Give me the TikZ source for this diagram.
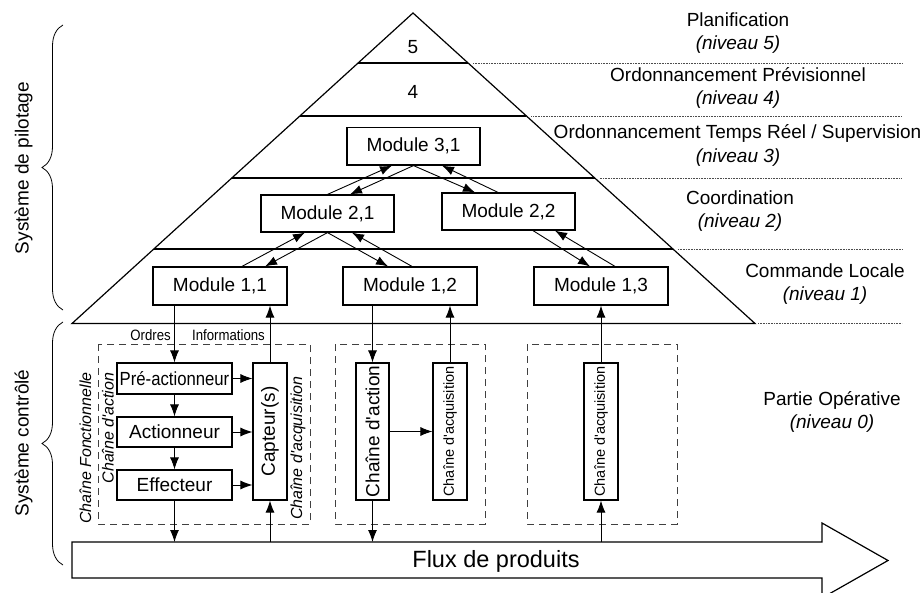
\documentclass[tikz,border=0pt]{standalone}
\usepackage{fontspec}
\setmainfont{Liberation Sans}
\newfontfamily\narrowfont{Liberation Sans}[FakeStretch=0.88]
\usetikzlibrary{arrows.meta,calc,decorations.pathreplacing}
\begin{document}
\begin{tikzpicture}[x=1pt,y=-1pt,
  every node/.style={font=\fontsize{19}{22}\selectfont, inner sep=0pt},
  box/.style={draw, line width=1.2pt, rectangle, inner sep=0pt},
  arr/.style={-{Latex[length=12pt,width=9pt]}, line width=0.9pt},
  lvl/.style={line width=1.2pt},
  dots/.style={line width=0.6pt, black!70, dash pattern=on 0.8pt off 0.8pt},
  dbox/.style={line width=0.9pt, black!75, dash pattern=on 7pt off 5pt},
  brc/.style={decorate, decoration={brace, amplitude=21pt}, line width=0.8pt},
  small/.style={font=\narrowfont\fontsize{15}{17}\selectfont},
  itl/.style={font=\itshape\fontsize{16}{18}\selectfont},
]
\useasboundingbox (0,0) rectangle (920,593);

% pyramid
\coordinate (A) at (413,13);
\coordinate (L) at (72,323.5);
\coordinate (R) at (755,323.5);
\coordinate (E) at (902,0);
\draw[lvl, line join=miter] (L) -- (A) -- (R) -- cycle;
\foreach \t/\n in {0.161/a, 0.3317/b, 0.5314/c, 0.7601/d} {
  \coordinate (l\n) at ($(A)!\t!(L)$);
  \coordinate (r\n) at ($(A)!\t!(R)$);
  \draw[lvl] (l\n) -- (r\n);
  \draw[dots] ($(r\n)+(5,0)$) -- (r\n -| E);
}
\draw[dots] ($(R)+(3,0)$) -- (R -| E);

\node (n5) at (413,47.5) {5};
\node (n4) at (413,92) {4};

% right labels
\node[anchor=base] (t5) at (738,27) {Planification};
\node[anchor=base] (v5) at (738,50) {\itshape (niveau 5)};
\node[anchor=base] (t4) at (738,82) {Ordonnancement Prévisionnel};
\node[anchor=base] (v4) at (738,105) {\itshape (niveau 4)};
\node[anchor=base] (t3) at (737.5,139) {Ordonnancement Temps Réel / Supervision};
\node[anchor=base] (v3) at (738,163) {\itshape (niveau 3)};
\node[anchor=base] (t2) at (740,205) {Coordination};
\node[anchor=base] (v2) at (740,228) {\itshape (niveau 2)};
\node[anchor=base] (t1) at (825,278) {Commande Locale};
\node[anchor=base] (v1) at (825,301) {\itshape (niveau 1)};
\node[anchor=base] (t0) at (832,405) {Partie Opérative};
\node[anchor=base] (v0) at (832,428) {\itshape (niveau 0)};

% modules
\node[box, minimum width=133pt, minimum height=37.5pt] (m31) at (413.5,146.25) {Module 3,1};
\node[box, minimum width=133pt, minimum height=37pt] (m21) at (327.5,213.5) {Module 2,1};
\node[box, minimum width=133pt, minimum height=37pt] (m22) at (508.5,211.5) {Module 2,2};
\node[box, minimum width=134pt, minimum height=38pt] (m11) at (220,286) {Module 1,1};
\node[box, minimum width=134pt, minimum height=38pt] (m12) at (410,286) {Module 1,2};
\node[box, minimum width=134pt, minimum height=38pt] (m13) at (601,286) {Module 1,3};

% module arrows
\draw[arr] (m21.north) -- ($(m31.south)+(-21.5,0)$);
\draw[arr] (m31.south) -- ($(m21.north)+(22.5,0)$);
\draw[arr] (m31.south) -- ($(m22.north)+(-33.5,0)$);
\draw[arr] ($(m22.north)+(-10.5,0)$) -- ($(m31.south)+(28.5,0)$);
\draw[arr] ($(m11.north)+(22,0)$) -- ($(m21.south)+(-22.5,0)$);
\draw[arr] (m21.south) -- ($(m11.north)+(45,0)$);
\draw[arr] (m21.south) -- ($(m12.north)+(-22,0)$);
\draw[arr] ($(m12.north)+(2,0)$) -- ($(m21.south)+(24.5,0)$);
\draw[arr] ($(m22.south)+(24.5,0)$) -- ($(m13.north)+(-11,0)$);
\draw[arr] ($(m13.north)+(14,0)$) -- ($(m22.south)+(46.5,0)$);

% braces
\draw[brc] (63,310) -- (63,25);
\draw[brc] (63,565) -- (63,322);
\node[rotate=90] (sp) at (23.5,168) {Système de pilotage};
\node[rotate=90] (sc) at (23.5,443) {Système contrôlé};

% dashed boxes
\draw[dbox] (98,344) rectangle (310,524);
\draw[dbox] (335,344) rectangle (485,524);
\draw[dbox] (527,344) rectangle (677,524);

% operative part boxes
\node[box, minimum width=115pt, minimum height=31pt] (pre) at (174.5,378.5) {\scalebox{0.88}[1]{Pré-actionneur}};
\node[box, minimum width=115pt, minimum height=30pt] (act) at (174.5,432) {Actionneur};
\node[box, minimum width=115pt, minimum height=30pt] (eff) at (174.5,485) {Effecteur};
\node[box, minimum width=34pt, minimum height=137pt] (capt) at (270,431.5) {};
\node[rotate=90] (captl) at (capt.center) {Capteur(s)};
\node[box, minimum width=33pt, minimum height=137pt] (ca2) at (372.5,431.5) {};
\node[rotate=90] (ca2l) at (ca2.center) {Chaîne d\textquotesingle action};
\node[box, minimum width=34pt, minimum height=137pt] (cq2) at (450,431.5) {};
\node[rotate=90, font=\fontsize{14.5}{16}\selectfont] (cq2l) at (cq2.center) {Chaîne d\textquotesingle acquisition};
\node[box, minimum width=34pt, minimum height=137pt] (cq3) at (601,431.5) {};
\node[rotate=90, font=\fontsize{14.5}{16}\selectfont] (cq3l) at (cq3.center) {Chaîne d\textquotesingle acquisition};

% italic labels
\node[rotate=90, itl] (cf) at (85.5,448) {Chaîne Fonctionnelle};
\node[rotate=90, itl] (cda) at (108,428) {Chaîne d\textquotesingle action};
\node[rotate=90, itl] (cdq) at (298,448) {Chaîne d\textquotesingle acquisition};

% small labels
\node[small, anchor=base east] (ordres) at (171,340) {Ordres};
\node[small, anchor=base west] (infos) at (192,340) {Informations};

% flux arrow
\draw[lvl, line join=miter] (72,542) -- (822,542) -- (822,523) -- (888,560.5) -- (822,598) -- (822,578) -- (72,578) -- cycle;
\coordinate (ftop) at (72,542);
\node[anchor=base, font=\fontsize{23.5}{26}\selectfont] (flux) at (496,567) {Flux de produits};

% connectors
\draw[arr] (pre.north |- m11.south) -- (pre.north);
\draw[arr] (capt.north) -- (capt.north |- m11.south);
\draw[arr] (pre.south) -- (act.north);
\draw[arr] (act.south) -- (eff.north);
\draw[arr] (eff.south) -- (eff.south |- ftop);
\draw[arr] (capt.south |- ftop) -- (capt.south);
\draw[arr] (pre.east) -- (pre.east -| capt.west);
\draw[arr] (act.east) -- (act.east -| capt.west);
\draw[arr] (eff.east) -- (eff.east -| capt.west);
\draw[arr] (m12.south -| ca2.north) -- (ca2.north);
\draw[arr] (cq2.north) -- (cq2.north |- m12.south);
\draw[arr] (ca2.east) -- (ca2.east -| cq2.west);
\draw[arr] (ca2.south) -- (ca2.south |- ftop);
\draw[arr] (cq3.south |- ftop) -- (cq3.south);
\draw[arr] (cq3.north) -- (cq3.north |- m13.south);
\end{tikzpicture}
\end{document}
